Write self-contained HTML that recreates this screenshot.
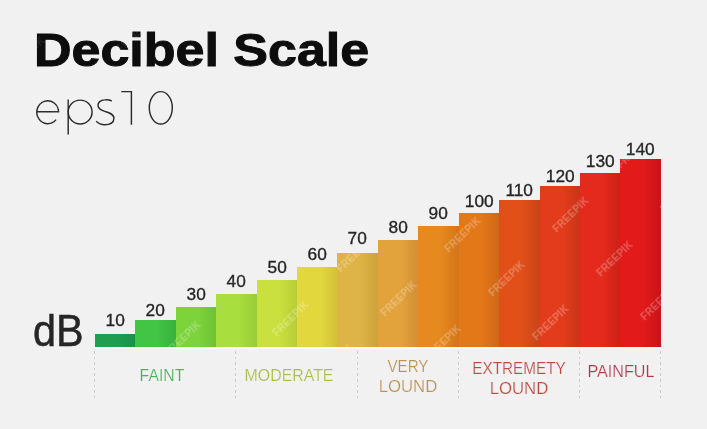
<!DOCTYPE html>
<html><head><meta charset="utf-8">
<style>
html,body{margin:0;padding:0;}
body{will-change:transform;width:707px;height:429px;background:#f1f1f1;position:relative;overflow:hidden;font-family:"Liberation Sans",sans-serif;}
.title{position:absolute;left:34.2px;top:22px;font-weight:bold;font-size:47px;color:#0d0d0d;white-space:nowrap;line-height:56px;transform-origin:0 0;transform:scaleX(1.106);-webkit-text-stroke:1px #0d0d0d;}
.db{position:absolute;left:33px;top:306px;font-size:44px;line-height:50px;color:#262626;transform-origin:0 0;transform:scaleX(0.94);-webkit-text-stroke:0.5px #262626;}
.bar{position:absolute;}
.num{position:absolute;text-align:center;font-size:16px;line-height:20px;color:#242424;transform:scaleX(1.08);-webkit-text-stroke:0.3px #242424;}
.dash{position:absolute;top:351px;width:1px;height:48px;background:repeating-linear-gradient(to bottom,#cbcbcb 0 2.6px,transparent 2.6px 5.6px);}
.wm{position:absolute;width:80px;margin-left:-40px;margin-top:-7px;text-align:center;font-size:10px;line-height:14px;font-weight:bold;color:rgba(255,255,255,0.2);transform:rotate(-44deg);letter-spacing:0.3px;filter:blur(0.45px);}
.cat{position:absolute;font-size:16.5px;line-height:19.5px;text-align:center;white-space:nowrap;-webkit-text-stroke:0.2px #f1f1f1;}
</style></head><body>
<div class="title">Decibel Scale</div>
<svg style="position:absolute;left:0;top:0" width="707" height="429" fill="none" stroke="#2b2b2b" stroke-width="1.45">
<path d="M36.8,111.7 H58.6 A10.9,11.5 0 1 0 56.05,119.64"/>
<path d="M68.2,99.6 V134.4"/>
<ellipse cx="80.15" cy="112.05" rx="11.95" ry="11.95"/>
<path d="M111.7,101 C109,99.5 106.5,99.8 104.6,99.9 C100.5,100 97.8,102.5 98,105.5 C98.2,109.5 102,110.5 106,111.8 C110.5,113.2 114,114.5 113.9,118.5 C113.8,122.5 110,124.7 104.6,124.7 C100.5,124.7 98,123 96.2,121.2"/>
<path d="M121.3,91.6 H131.4 V124.8"/>
<ellipse cx="160.8" cy="107.85" rx="11.5" ry="16.2"/>
</svg>
<div class="db">dB</div>
<div class="bar" style="left:95.00px;top:333.80px;width:41.01px;height:12.80px;background:linear-gradient(to right,#1f9e50 0%,#1f9e50 55%,#1a9046 100%)"></div><div class="bar" style="left:135.41px;top:320.38px;width:41.01px;height:26.22px;background:linear-gradient(to right,#42c444 0%,#42c444 55%,#37b03e 100%)"></div><div class="bar" style="left:175.82px;top:306.96px;width:41.01px;height:39.64px;background:linear-gradient(to right,#7cd33a 0%,#7cd33a 55%,#6cc034 100%)"></div><div class="bar" style="left:216.23px;top:293.54px;width:41.01px;height:53.06px;background:linear-gradient(to right,#a8de3e 0%,#a8de3e 55%,#98cc38 100%)"></div><div class="bar" style="left:256.64px;top:280.12px;width:41.01px;height:66.48px;background:linear-gradient(to right,#c9e03e 0%,#c9e03e 55%,#b8cc38 100%)"></div><div class="bar" style="left:297.05px;top:266.70px;width:41.01px;height:79.90px;background:linear-gradient(to right,#e2d83e 0%,#e2d83e 55%,#d2c038 100%)"></div><div class="bar" style="left:337.46px;top:253.28px;width:41.01px;height:93.32px;background:linear-gradient(to right,#dfb446 0%,#dfb446 55%,#cca23c 100%)"></div><div class="bar" style="left:377.87px;top:239.86px;width:41.01px;height:106.74px;background:linear-gradient(to right,#e3a33c 0%,#e3a33c 55%,#d08f34 100%)"></div><div class="bar" style="left:418.28px;top:226.44px;width:41.01px;height:120.16px;background:linear-gradient(to right,#e6891e 0%,#e6891e 55%,#d4741a 100%)"></div><div class="bar" style="left:458.69px;top:213.02px;width:41.01px;height:133.58px;background:linear-gradient(to right,#e37818 0%,#e37818 55%,#cf6618 100%)"></div><div class="bar" style="left:499.10px;top:199.60px;width:41.01px;height:147.00px;background:linear-gradient(to right,#e2501a 0%,#e2501a 55%,#c84418 100%)"></div><div class="bar" style="left:539.51px;top:186.18px;width:41.01px;height:160.42px;background:linear-gradient(to right,#e23c1c 0%,#e23c1c 55%,#c83418 100%)"></div><div class="bar" style="left:579.92px;top:172.76px;width:41.01px;height:173.84px;background:linear-gradient(to right,#e42a1c 0%,#e42a1c 55%,#cc2018 100%)"></div><div class="bar" style="left:620.33px;top:159.34px;width:41.01px;height:187.26px;background:linear-gradient(to right,#e21a1a 0%,#e21a1a 55%,#c81418 100%)"></div>
<div class="num" style="left:95.00px;top:311.40px;width:40.41px">10</div><div class="num" style="left:135.41px;top:300.80px;width:40.41px">20</div><div class="num" style="left:175.82px;top:285.00px;width:40.41px">30</div><div class="num" style="left:216.23px;top:271.90px;width:40.41px">40</div><div class="num" style="left:256.64px;top:258.30px;width:40.41px">50</div><div class="num" style="left:297.05px;top:244.70px;width:40.41px">60</div><div class="num" style="left:337.46px;top:229.20px;width:40.41px">70</div><div class="num" style="left:377.87px;top:218.00px;width:40.41px">80</div><div class="num" style="left:418.28px;top:203.50px;width:40.41px">90</div><div class="num" style="left:458.69px;top:192.10px;width:40.41px">100</div><div class="num" style="left:499.10px;top:180.60px;width:40.41px">110</div><div class="num" style="left:539.51px;top:167.10px;width:40.41px">120</div><div class="num" style="left:579.92px;top:152.00px;width:40.41px">130</div><div class="num" style="left:620.33px;top:140.10px;width:40.41px">140</div>
<div style="position:absolute;left:95px;top:346.6px;width:566px;height:2px;background:#fbfbfb"></div>
<div style="position:absolute;left:0;top:0;width:707px;height:429px;opacity:0.45"><div class="wm" style="left:-33px;top:379px">FREEPIK</div><div class="wm" style="left:11px;top:423px">FREEPIK</div><div class="wm" style="left:55px;top:467px">FREEPIK</div><div class="wm" style="left:-13px;top:271px">FREEPIK</div><div class="wm" style="left:31px;top:315px">FREEPIK</div><div class="wm" style="left:75px;top:359px">FREEPIK</div><div class="wm" style="left:119px;top:403px">FREEPIK</div><div class="wm" style="left:163px;top:447px">FREEPIK</div><div class="wm" style="left:-37px;top:119px">FREEPIK</div><div class="wm" style="left:7px;top:163px">FREEPIK</div><div class="wm" style="left:51px;top:207px">FREEPIK</div><div class="wm" style="left:95px;top:251px">FREEPIK</div><div class="wm" style="left:139px;top:295px">FREEPIK</div><div class="wm" style="left:183px;top:339px">FREEPIK</div><div class="wm" style="left:227px;top:383px">FREEPIK</div><div class="wm" style="left:271px;top:427px">FREEPIK</div><div class="wm" style="left:-17px;top:11px">FREEPIK</div><div class="wm" style="left:27px;top:55px">FREEPIK</div><div class="wm" style="left:71px;top:99px">FREEPIK</div><div class="wm" style="left:115px;top:143px">FREEPIK</div><div class="wm" style="left:159px;top:187px">FREEPIK</div><div class="wm" style="left:203px;top:231px">FREEPIK</div><div class="wm" style="left:247px;top:275px">FREEPIK</div><div class="wm" style="left:291px;top:319px">FREEPIK</div><div class="wm" style="left:335px;top:363px">FREEPIK</div><div class="wm" style="left:379px;top:407px">FREEPIK</div><div class="wm" style="left:423px;top:451px">FREEPIK</div><div class="wm" style="left:91px;top:-9px">FREEPIK</div><div class="wm" style="left:135px;top:35px">FREEPIK</div><div class="wm" style="left:179px;top:79px">FREEPIK</div><div class="wm" style="left:223px;top:123px">FREEPIK</div><div class="wm" style="left:267px;top:167px">FREEPIK</div><div class="wm" style="left:311px;top:211px">FREEPIK</div><div class="wm" style="left:355px;top:255px">FREEPIK</div><div class="wm" style="left:399px;top:299px">FREEPIK</div><div class="wm" style="left:443px;top:343px">FREEPIK</div><div class="wm" style="left:487px;top:387px">FREEPIK</div><div class="wm" style="left:531px;top:431px">FREEPIK</div><div class="wm" style="left:199px;top:-29px">FREEPIK</div><div class="wm" style="left:243px;top:15px">FREEPIK</div><div class="wm" style="left:287px;top:59px">FREEPIK</div><div class="wm" style="left:331px;top:103px">FREEPIK</div><div class="wm" style="left:375px;top:147px">FREEPIK</div><div class="wm" style="left:419px;top:191px">FREEPIK</div><div class="wm" style="left:463px;top:235px">FREEPIK</div><div class="wm" style="left:507px;top:279px">FREEPIK</div><div class="wm" style="left:551px;top:323px">FREEPIK</div><div class="wm" style="left:595px;top:367px">FREEPIK</div><div class="wm" style="left:639px;top:411px">FREEPIK</div><div class="wm" style="left:351px;top:-5px">FREEPIK</div><div class="wm" style="left:395px;top:39px">FREEPIK</div><div class="wm" style="left:439px;top:83px">FREEPIK</div><div class="wm" style="left:483px;top:127px">FREEPIK</div><div class="wm" style="left:527px;top:171px">FREEPIK</div><div class="wm" style="left:571px;top:215px">FREEPIK</div><div class="wm" style="left:615px;top:259px">FREEPIK</div><div class="wm" style="left:659px;top:303px">FREEPIK</div><div class="wm" style="left:703px;top:347px">FREEPIK</div><div class="wm" style="left:747px;top:391px">FREEPIK</div><div class="wm" style="left:459px;top:-25px">FREEPIK</div><div class="wm" style="left:503px;top:19px">FREEPIK</div><div class="wm" style="left:547px;top:63px">FREEPIK</div><div class="wm" style="left:591px;top:107px">FREEPIK</div><div class="wm" style="left:635px;top:151px">FREEPIK</div><div class="wm" style="left:679px;top:195px">FREEPIK</div><div class="wm" style="left:723px;top:239px">FREEPIK</div><div class="wm" style="left:611px;top:-1px">FREEPIK</div><div class="wm" style="left:655px;top:43px">FREEPIK</div><div class="wm" style="left:699px;top:87px">FREEPIK</div><div class="wm" style="left:743px;top:131px">FREEPIK</div><div class="wm" style="left:719px;top:-21px">FREEPIK</div></div><div style="position:absolute;left:0;top:0;width:707px;height:429px;clip-path:polygon(95.00px 346.60px,95.00px 333.80px,135.41px 333.80px,135.41px 320.38px,175.82px 320.38px,175.82px 306.96px,216.23px 306.96px,216.23px 293.54px,256.64px 293.54px,256.64px 280.12px,297.05px 280.12px,297.05px 266.70px,337.46px 266.70px,337.46px 253.28px,377.87px 253.28px,377.87px 239.86px,418.28px 239.86px,418.28px 226.44px,458.69px 226.44px,458.69px 213.02px,499.10px 213.02px,499.10px 199.60px,539.51px 199.60px,539.51px 186.18px,579.92px 186.18px,579.92px 172.76px,620.33px 172.76px,620.33px 159.34px,660.74px 159.34px,661.50px 346.60px)"><div class="wm" style="left:-33px;top:379px">FREEPIK</div><div class="wm" style="left:11px;top:423px">FREEPIK</div><div class="wm" style="left:55px;top:467px">FREEPIK</div><div class="wm" style="left:-13px;top:271px">FREEPIK</div><div class="wm" style="left:31px;top:315px">FREEPIK</div><div class="wm" style="left:75px;top:359px">FREEPIK</div><div class="wm" style="left:119px;top:403px">FREEPIK</div><div class="wm" style="left:163px;top:447px">FREEPIK</div><div class="wm" style="left:-37px;top:119px">FREEPIK</div><div class="wm" style="left:7px;top:163px">FREEPIK</div><div class="wm" style="left:51px;top:207px">FREEPIK</div><div class="wm" style="left:95px;top:251px">FREEPIK</div><div class="wm" style="left:139px;top:295px">FREEPIK</div><div class="wm" style="left:183px;top:339px">FREEPIK</div><div class="wm" style="left:227px;top:383px">FREEPIK</div><div class="wm" style="left:271px;top:427px">FREEPIK</div><div class="wm" style="left:-17px;top:11px">FREEPIK</div><div class="wm" style="left:27px;top:55px">FREEPIK</div><div class="wm" style="left:71px;top:99px">FREEPIK</div><div class="wm" style="left:115px;top:143px">FREEPIK</div><div class="wm" style="left:159px;top:187px">FREEPIK</div><div class="wm" style="left:203px;top:231px">FREEPIK</div><div class="wm" style="left:247px;top:275px">FREEPIK</div><div class="wm" style="left:291px;top:319px">FREEPIK</div><div class="wm" style="left:335px;top:363px">FREEPIK</div><div class="wm" style="left:379px;top:407px">FREEPIK</div><div class="wm" style="left:423px;top:451px">FREEPIK</div><div class="wm" style="left:91px;top:-9px">FREEPIK</div><div class="wm" style="left:135px;top:35px">FREEPIK</div><div class="wm" style="left:179px;top:79px">FREEPIK</div><div class="wm" style="left:223px;top:123px">FREEPIK</div><div class="wm" style="left:267px;top:167px">FREEPIK</div><div class="wm" style="left:311px;top:211px">FREEPIK</div><div class="wm" style="left:355px;top:255px">FREEPIK</div><div class="wm" style="left:399px;top:299px">FREEPIK</div><div class="wm" style="left:443px;top:343px">FREEPIK</div><div class="wm" style="left:487px;top:387px">FREEPIK</div><div class="wm" style="left:531px;top:431px">FREEPIK</div><div class="wm" style="left:199px;top:-29px">FREEPIK</div><div class="wm" style="left:243px;top:15px">FREEPIK</div><div class="wm" style="left:287px;top:59px">FREEPIK</div><div class="wm" style="left:331px;top:103px">FREEPIK</div><div class="wm" style="left:375px;top:147px">FREEPIK</div><div class="wm" style="left:419px;top:191px">FREEPIK</div><div class="wm" style="left:463px;top:235px">FREEPIK</div><div class="wm" style="left:507px;top:279px">FREEPIK</div><div class="wm" style="left:551px;top:323px">FREEPIK</div><div class="wm" style="left:595px;top:367px">FREEPIK</div><div class="wm" style="left:639px;top:411px">FREEPIK</div><div class="wm" style="left:351px;top:-5px">FREEPIK</div><div class="wm" style="left:395px;top:39px">FREEPIK</div><div class="wm" style="left:439px;top:83px">FREEPIK</div><div class="wm" style="left:483px;top:127px">FREEPIK</div><div class="wm" style="left:527px;top:171px">FREEPIK</div><div class="wm" style="left:571px;top:215px">FREEPIK</div><div class="wm" style="left:615px;top:259px">FREEPIK</div><div class="wm" style="left:659px;top:303px">FREEPIK</div><div class="wm" style="left:703px;top:347px">FREEPIK</div><div class="wm" style="left:747px;top:391px">FREEPIK</div><div class="wm" style="left:459px;top:-25px">FREEPIK</div><div class="wm" style="left:503px;top:19px">FREEPIK</div><div class="wm" style="left:547px;top:63px">FREEPIK</div><div class="wm" style="left:591px;top:107px">FREEPIK</div><div class="wm" style="left:635px;top:151px">FREEPIK</div><div class="wm" style="left:679px;top:195px">FREEPIK</div><div class="wm" style="left:723px;top:239px">FREEPIK</div><div class="wm" style="left:611px;top:-1px">FREEPIK</div><div class="wm" style="left:655px;top:43px">FREEPIK</div><div class="wm" style="left:699px;top:87px">FREEPIK</div><div class="wm" style="left:743px;top:131px">FREEPIK</div><div class="wm" style="left:719px;top:-21px">FREEPIK</div></div>
<div class="dash" style="left:94px"></div>
<div class="dash" style="left:235px"></div>
<div class="dash" style="left:357px"></div>
<div class="dash" style="left:458px"></div>
<div class="dash" style="left:579px"></div>
<div class="dash" style="left:660px"></div>
<div class="cat" style="left:81.80px;width:160px;top:365.70px;color:#46b256;transform:scaleX(0.957)">FAINT</div><div class="cat" style="left:209.00px;width:160px;top:366.30px;color:#a8bc46;transform:scaleX(0.963)">MODERATE</div><div class="cat" style="left:327.80px;width:160px;top:357.40px;color:#bc9050;transform:scaleX(0.918)">VERY</div><div class="cat" style="left:328.00px;width:160px;top:376.60px;color:#bc9050;transform:scaleX(1.016)">LOUND</div><div class="cat" style="left:439.10px;width:160px;top:359.00px;color:#c2463e;transform:scaleX(0.927)">EXTREMETY</div><div class="cat" style="left:439.20px;width:160px;top:378.60px;color:#c2463e;transform:scaleX(1.016)">LOUND</div><div class="cat" style="left:540.60px;width:160px;top:362.00px;color:#b63848;transform:scaleX(0.978)">PAINFUL</div>
</body></html>
